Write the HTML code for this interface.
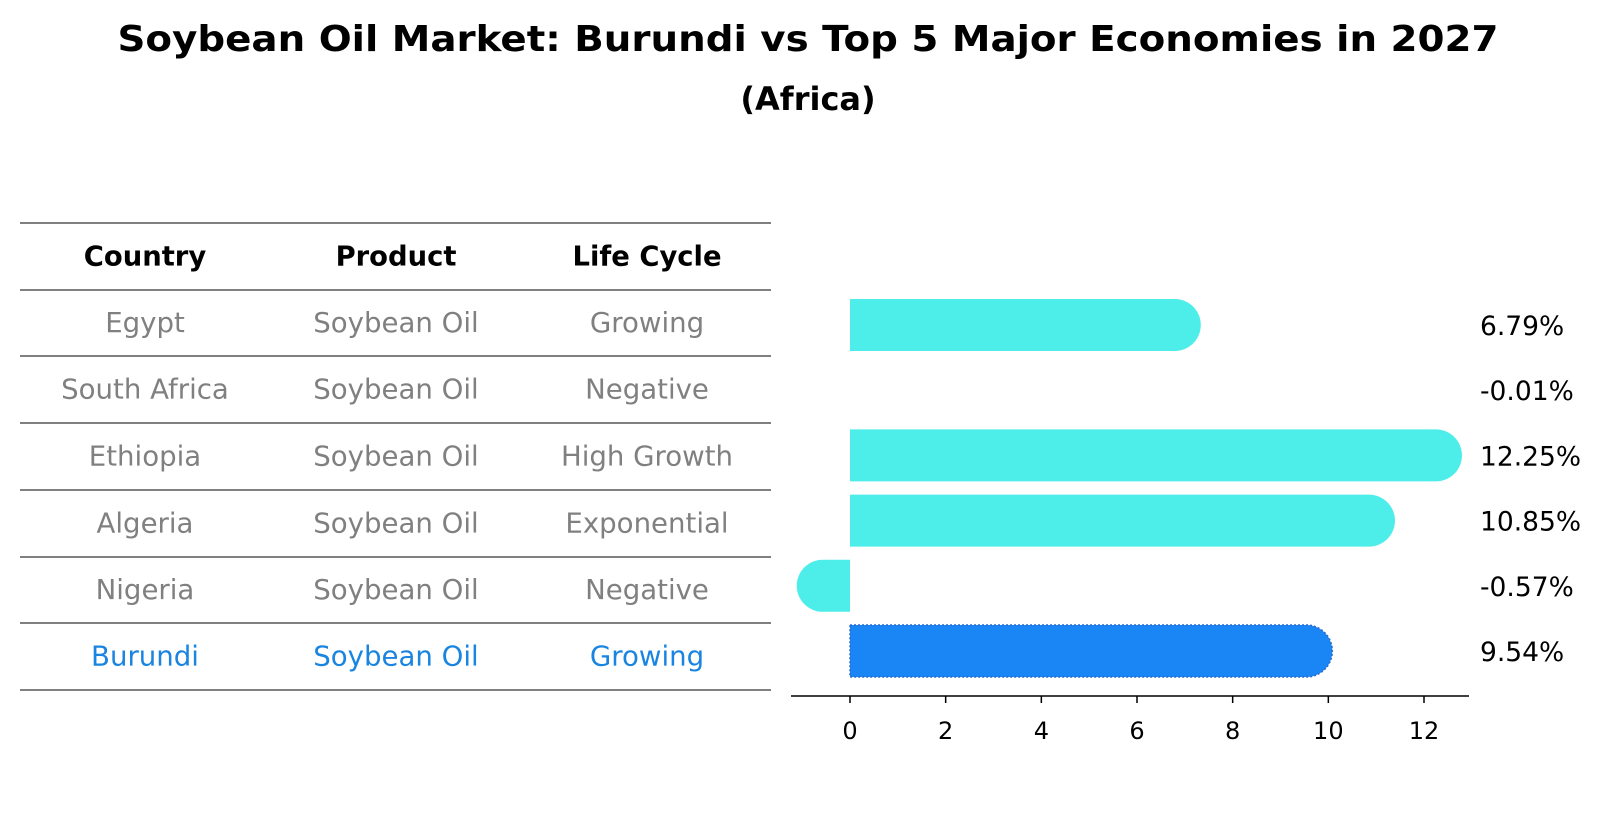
<!DOCTYPE html>
<html><head><meta charset="utf-8"><style>
html,body{margin:0;padding:0;background:#fff}
svg{display:block;font-family:"DejaVu Sans","Liberation Sans",sans-serif}
</style></head><body>
<svg id="chart" width="1604" height="823" viewBox="0 0 1604 823" xmlns="http://www.w3.org/2000/svg">
<text x="808" y="51" text-anchor="middle" font-size="36" font-weight="bold" textLength="1381" lengthAdjust="spacingAndGlyphs">Soybean Oil Market: Burundi vs Top 5 Major Economies in 2027</text>
<text x="808" y="110" text-anchor="middle" font-size="32" font-weight="bold">(Africa)</text>
<g id="table"></g>
<g id="bars"></g>
</svg>
<script>
const countries = ["Egypt","South Africa","Ethiopia","Algeria","Nigeria","Burundi"];
const products = ["Soybean Oil","Soybean Oil","Soybean Oil","Soybean Oil","Soybean Oil","Soybean Oil"];
const lifeCycles = ["Growing","Negative","High Growth","Exponential","Negative","Growing"];
const growthValues = [6.79,-0.01,12.25,10.85,-0.57,9.54];
const tickValues = [0,2,4,6,8,10,12];
const headers = ["Country","Product","Life Cycle"];
const highlight = "Burundi";

const NS = "http://www.w3.org/2000/svg";
function mk(tag, attrs, parent){const e=document.createElementNS(NS,tag);for(const k in attrs)e.setAttribute(k,attrs[k]);parent.appendChild(e);return e;}

const tbl=document.getElementById('table');
const colX=[145,396,647];
const lineY=[223,290,356,423,490,557,623,690];
for(let i=0;i<lineY.length;i++){
  const l=mk('line',{x1:20,x2:771,y1:lineY[i],y2:lineY[i],stroke:'#000','stroke-width':1},tbl);
  
  
}
headers.forEach((h,j)=>{
  const t=mk('text',{x:colX[j],y:(lineY[0]+lineY[1])/2+9,'text-anchor':'middle','font-size':27.4,'font-weight':'bold'},tbl);
  t.textContent=h;
  
  
});
countries.forEach((c,i)=>{
  const cy=(lineY[i+1]+lineY[i+2])/2+9;
  const col=c===highlight?'#1a85e0':'#808080';
  [c,products[i],lifeCycles[i]].forEach((v,j)=>{
    const t=mk('text',{x:colX[j],y:cy,'text-anchor':'middle','font-size':27.6,fill:col},tbl);
    t.textContent=v;
    
    
  });
});

const g=document.getElementById('bars');
const x0=850, pxPerUnit=(1424-850)/12;
const xScale=v=>x0+v*pxPerUnit;
const rowTop=325, rowStep=65.2, barH=52;
const yScale=i=>rowTop+i*rowStep;
growthValues.forEach((v,i)=>{
  const cy=yScale(i), y1=cy-barH/2, y2=cy+barH/2, xv=xScale(v), r=barH/2;
  const isH=countries[i]===highlight;
  if(Math.abs(v)>=0.05){
    let d;
    if(v>=0){ d=`M${x0},${y1}L${xv},${y1}A${r},${r} 0 0 1 ${xv},${y2}L${x0},${y2}Z`; }
    else { d=`M${x0},${y1}L${xv},${y1}A${r},${r} 0 0 0 ${xv},${y2}L${x0},${y2}Z`; }
    const p=mk('path',{d:d,fill:isH?'#1a85f5':'#4deee9'},g);
    if(isH){p.setAttribute('stroke','#2a6cc8');p.setAttribute('stroke-width','1.5');p.setAttribute('stroke-dasharray','2,2');}
    
    
  }
  const t=mk('text',{x:1480,y:cy+10,'font-size':26.5,fill:'#000'},g);
  t.textContent=v.toFixed(2)+'%';
  
  
});
const ax=mk('line',{x1:791,x2:1469,y1:696,y2:696,stroke:'#000','stroke-width':1.5},g);


tickValues.forEach(v=>{
  const x=xScale(v);
  const tk=mk('line',{x1:x,x2:x,y1:696,y2:703,stroke:'#000','stroke-width':1.5},g);
  
  
  const t=mk('text',{x:x,y:739,'text-anchor':'middle','font-size':24},g);
  t.textContent=v;
  
  
});
</script>
</body></html>
